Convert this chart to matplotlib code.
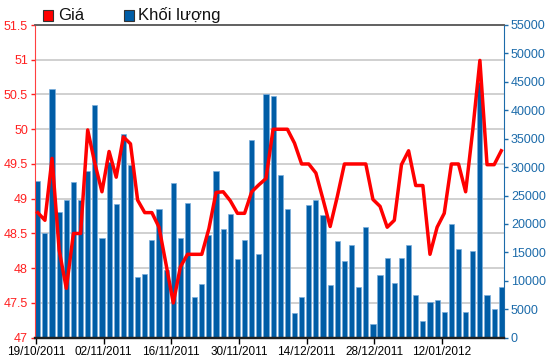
import matplotlib
matplotlib.use("Agg")
import matplotlib.pyplot as plt
import numpy as np

plt.rcParams['font.family'] = ['Liberation Sans', 'DejaVu Sans']

date_labels = ["19/10/2011", "02/11/2011", "16/11/2011", "30/11/2011",
               "14/12/2011", "28/12/2011", "12/01/2012"]

price = [48.80, 48.69, 49.58, 48.26, 47.71, 48.50, 48.50, 49.99, 49.51, 49.10,
         49.68, 49.31, 49.89, 49.79, 48.98, 48.80, 48.80, 48.59, 48.05, 47.50,
         48.02, 48.20, 48.20, 48.20, 48.57, 49.09, 49.10, 48.97, 48.79, 48.79,
         49.10, 49.20, 49.29, 50.00, 50.00, 50.00, 49.80, 49.50, 49.50, 49.37,
         48.99, 48.60, 49.03, 49.50, 49.50, 49.50, 49.50, 48.99, 48.89, 48.59,
         48.69, 49.49, 49.69, 49.19, 49.19, 48.20, 48.59, 48.79, 49.50, 49.50,
         49.10, 49.99, 50.99, 49.49, 49.49, 49.69]

volume = [27600, 18470, 43690, 22160, 24220, 27440, 24220, 29380, 40880, 17540,
          30960, 23520, 35780, 30380, 10730, 11150, 17120, 22590, 11910, 27160,
          17480, 23750, 7210, 9450, 18070, 29380, 19070, 21760, 13840, 17190,
          34780, 14720, 42870, 42520, 28620, 22590, 4400, 7210, 23340, 24220,
          21530, 9220, 16960, 13440, 16250, 8870, 19530, 2410, 11030, 14070,
          9680, 14070, 16250, 7460, 2990, 6280, 6580, 4570, 20000, 15550,
          4570, 15200, 45000, 7460, 5100, 8830]

x = np.arange(len(price))

fig = plt.figure(figsize=(5.5, 3.64), dpi=100)
ax = fig.add_axes([35/550, 1 - 337.7/364, (504-35)/550, (337.7-25)/364])
ax2 = ax.twinx()

red = '#FF0000'
blue = '#005DA6'
lblue = '#1C6BAA'

ax2.bar(x, volume, width=0.72, color=blue, edgecolor='#7AAEDC', linewidth=0.5, zorder=2)
ax2.set_ylim(0, 55000)
ax2.set_yticks(np.arange(0, 55001, 5000))
ax2.tick_params(axis='y', colors=lblue, labelsize=9, length=3, width=1, pad=2)
for lab in ax2.get_yticklabels():
    lab.set_color(lblue)

# price line on top
ax.set_zorder(ax2.get_zorder() + 1)
ax.patch.set_visible(False)
ax2.patch.set_visible(True)
ax2.patch.set_facecolor('white')
ax.plot(x, price, color=red, linewidth=2.5, zorder=3, solid_joinstyle='round')
ax.set_ylim(47, 51.5)
ax.set_yticks(np.arange(47, 51.51, 0.5))
ax.set_yticklabels([('%g' % v) for v in np.arange(47, 51.51, 0.5)])
ax.tick_params(axis='y', colors='#FF2020', labelsize=9, length=3, width=1, pad=2)
for lab in ax.get_yticklabels():
    lab.set_color('#FF2020')

# grid drawn on ax2 (behind bars)
for v in np.arange(47.5, 51.01, 0.5):
    yy = (v - 47) / 4.5 * 55000
    ax2.axhline(yy, color='#C8C8C8', linewidth=1.2, zorder=1)

ax.set_xlim(-0.39, 65.38)
ticks = -0.25 + 9.49 * np.arange(len(date_labels))
ax.set_xticks(ticks)
ax.set_xticklabels(date_labels)
ax.tick_params(axis='x', colors='black', labelsize=8.5, length=4, width=1, pad=2)
ax2.set_xlim(-0.39, 65.38)

for a in (ax, ax2):
    a.spines['left'].set_color('#FF4040')
    a.spines['right'].set_color(lblue)
    a.spines['top'].set_color('#606060')
    a.spines['bottom'].set_color('#202020')
    a.spines['bottom'].set_linewidth(1.6)
    a.spines['top'].set_linewidth(1.2)
ax2.spines['left'].set_visible(False)
ax.spines['right'].set_visible(False)

# legend
fig.patches.append(plt.Rectangle((42.5/550, 1 - 21/364), 10.5/550, 11.5/364,
                                 transform=fig.transFigure, facecolor=red,
                                 edgecolor='#333333', linewidth=0.8))
fig.text(58/550, 1 - 15/364, 'Giá', fontsize=12, va='center', ha='left', color='#111111')
fig.patches.append(plt.Rectangle((123.5/550, 1 - 21/364), 10.5/550, 11.5/364,
                                 transform=fig.transFigure, facecolor=blue,
                                 edgecolor='#333333', linewidth=0.8))
fig.text(138/550, 1 - 15/364, 'Khối lượng', fontsize=12, va='center', ha='left', color='#111111')

fig.savefig('out.png', dpi=100)
